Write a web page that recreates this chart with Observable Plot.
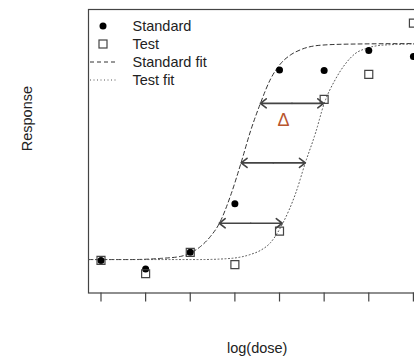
<!DOCTYPE html>
<html>
<head>
<meta charset="utf-8">
<script src="https://cdn.jsdelivr.net/npm/d3@7"></script>
<script src="https://cdn.jsdelivr.net/npm/@observablehq/plot@0.6"></script>
<style>
  html, body { margin: 0; padding: 0; overflow: hidden; background: white; }
  #wrap { position: relative; width: 414px; height: 364px; overflow: hidden; }
  #wrap > svg:first-child { max-width: none !important; width: 440px !important; height: 364px !important; display: block; }
  #legend { position: absolute; left: 0; top: 0; }
</style>
</head>
<body>
<div id="wrap"></div>
<script>
// ---- data ----
const xTicks = [0, 1, 2, 3, 4, 5, 6, 7];
const logDose = [0, 1, 2, 3, 4, 5, 6, 7];
const standardResp = [11.5, 8.5, 14.4, 31.5, 78.7, 78.5, 85.5, 83.4];
const testResp = [11.5, 6.8, 14.3, 10.0, 21.8, 68.3, 77.1, 95.2];

// fitted curves, sampled along the drawn lines
const standardFitX = [-0.28, 0.66, 1.33, 1.78, 2.0, 2.23, 2.45, 2.65, 2.9, 3.14, 3.35, 3.57, 3.8, 4.02, 4.24, 4.47, 4.92, 5.59, 7.28];
const standardFitY = [11.8, 11.8, 12.2, 12.9, 14.1, 16.4, 19.9, 24.5, 34.2, 46.0, 57.1, 66.8, 75.5, 80.8, 83.9, 85.8, 87.4, 87.8, 88.0];
const testFitX = [-0.28, 2.23, 2.9, 3.35, 3.57, 3.8, 4.07, 4.36, 4.58, 4.81, 5.0, 5.25, 5.48, 5.7, 5.93, 6.37, 7.28];
const testFitY = [11.8, 11.8, 12.2, 13.6, 15.0, 17.8, 24.5, 35.1, 46.0, 56.6, 66.8, 75.3, 80.9, 84.5, 86.2, 87.5, 87.9];

// horizontal shift arrows (response level, standard x, test x)
const arrowLevel = [66.9, 45.9, 24.6];
const arrowFrom = [3.57, 3.14, 2.65];
const arrowTo = [4.99, 4.58, 4.06];
const deltaLabel = ["Δ"];
const deltaAt = [4.09, 60.8];

const legendLabels = ["Standard", "Test", "Standard fit", "Test fit"];
const xLabel = "log(dose)";
const yLabel = "Response";

// ---- build tables ----
const pts = logDose.map((x, i) => ({x, s: standardResp[i], t: testResp[i]}));
const stdFit = standardFitX.map((x, i) => ({x, y: standardFitY[i]}));
const tstFit = testFitX.map((x, i) => ({x, y: testFitY[i]}));
// each double-headed arrow = two single-headed halves from the middle
const halves = arrowLevel.flatMap((y, i) => {
  const mid = (arrowFrom[i] + arrowTo[i]) / 2;
  return [{y, x1: mid, x2: arrowFrom[i]}, {y, x1: mid, x2: arrowTo[i]}];
});

const font = "'Liberation Sans', Arial, Helvetica, sans-serif";

const chart = Plot.plot({
  width: 440,
  height: 364,
  marginLeft: 88,
  marginRight: 14.6,
  marginTop: 9,
  marginBottom: 71.5,
  x: {domain: [-0.28, 7.28]},
  y: {domain: [0, 100], axis: null},
  style: {fontFamily: font, background: "white", color: "#222", maxWidth: "none"},
  marks: [
    Plot.frame({stroke: "#444", strokeWidth: 1.2}),
    Plot.axisX({ticks: xTicks, tickSize: 9, tickFormat: () => "", stroke: "#444", strokeWidth: 1.2, label: null}),
    Plot.line(stdFit, {x: "x", y: "y", stroke: "#333", strokeWidth: 1, strokeDasharray: "4,3", curve: "monotone-x"}),
    Plot.line(tstFit, {x: "x", y: "y", stroke: "#555", strokeWidth: 1, strokeDasharray: "1,2.5", curve: "monotone-x"}),
    Plot.arrow(halves, {x1: "x1", x2: "x2", y1: "y", y2: "y", stroke: "#444", strokeWidth: 1.6, headLength: 7, headAngle: 75}),
    Plot.dot(pts, {x: "x", y: "s", r: 3.5, fill: "black", symbol: "circle"}),
    Plot.dot(pts, {x: "x", y: "t", r: 4.5, symbol: "square", stroke: "#444", fill: "none", strokeWidth: 1.2}),
    Plot.text(deltaLabel, {x: () => deltaAt[0], y: () => deltaAt[1], text: d => d, fill: "#b8562e", fontSize: 18}),
    Plot.text([yLabel], {frameAnchor: "left", dx: -61, rotate: -90, text: d => d, fontSize: 14.5, fill: "#222"}),
    Plot.text([xLabel], {frameAnchor: "bottom", dy: 60, text: d => d, fontSize: 14.5, fill: "#222"})
  ]
});

const wrap = document.getElementById("wrap");
wrap.appendChild(chart);

// ---- legend (inside plot, top-left) ----
const lg = d3.select(wrap).append("svg")
  .attr("id", "legend")
  .attr("width", 220).attr("height", 95)
  .style("font-family", font);
const rowY = i => 26 + i * 18;
legendLabels.forEach((lab, i) => {
  const y = rowY(i);
  if (i === 0) lg.append("circle").attr("cx", 103).attr("cy", y).attr("r", 3.5).attr("fill", "black");
  if (i === 1) lg.append("rect").attr("x", 99).attr("y", y - 4).attr("width", 8).attr("height", 8)
    .attr("fill", "none").attr("stroke", "#444").attr("stroke-width", 1.2);
  if (i === 2) lg.append("line").attr("x1", 90).attr("x2", 118).attr("y1", y).attr("y2", y)
    .attr("stroke", "#333").attr("stroke-dasharray", "4,3");
  if (i === 3) lg.append("line").attr("x1", 90).attr("x2", 118).attr("y1", y).attr("y2", y)
    .attr("stroke", "#555").attr("stroke-dasharray", "1,2.5");
  lg.append("text").attr("x", 132.5).attr("y", y).attr("dy", "0.35em")
    .attr("font-size", 14.5).attr("fill", "#222").text(lab);
});
</script>
</body>
</html>
